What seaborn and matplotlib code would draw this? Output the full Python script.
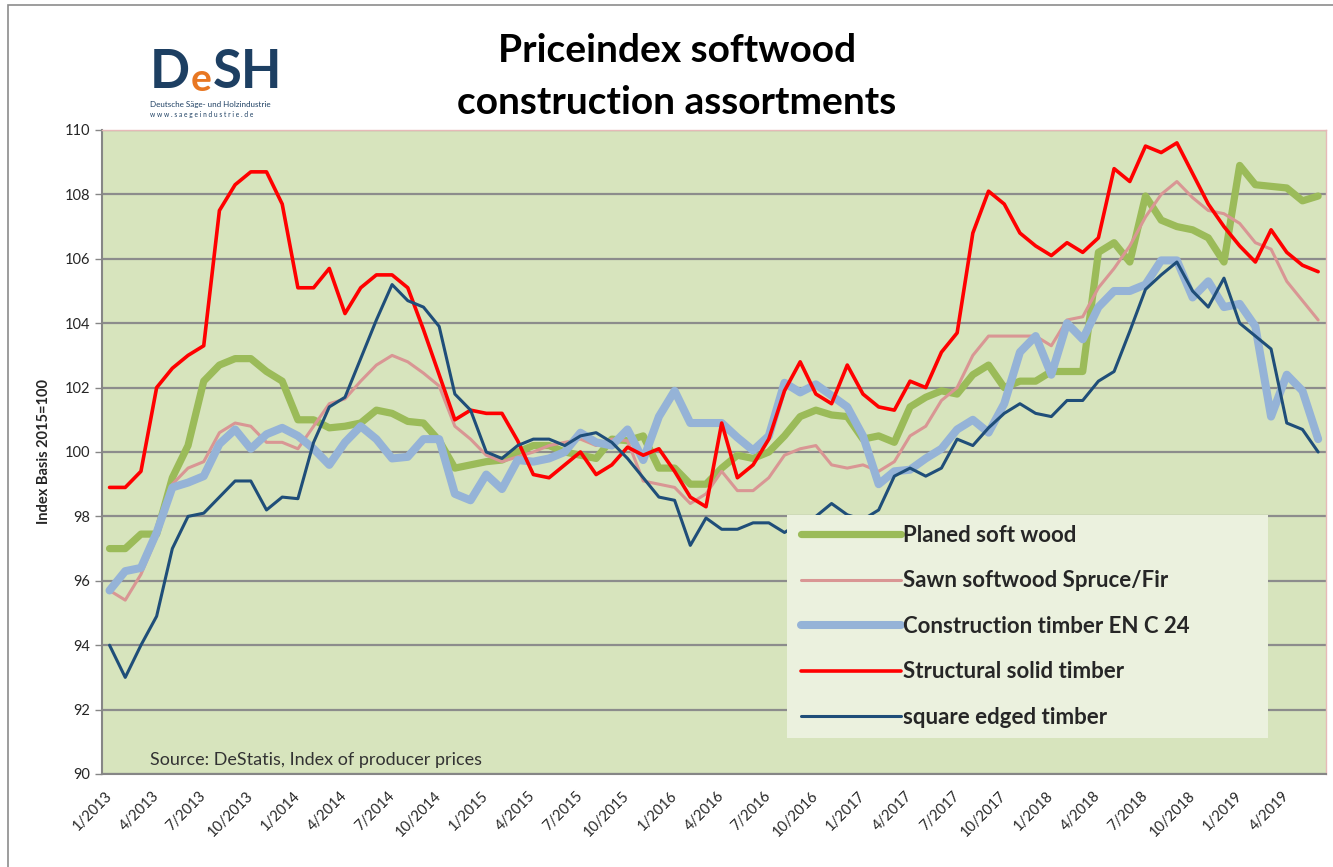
import matplotlib
matplotlib.use("Agg")
import matplotlib.pyplot as plt
from matplotlib.patches import Rectangle
import seaborn as sns
import numpy as np

# monthly values 1/2013 .. 6/2019 (78 months)
months = np.arange(78)
tick_labels = ["1/2013", "4/2013", "7/2013", "10/2013", "1/2014", "4/2014", "7/2014",
               "10/2014", "1/2015", "4/2015", "7/2015", "10/2015", "1/2016", "4/2016",
               "7/2016", "10/2016", "1/2017", "4/2017", "7/2017", "10/2017", "1/2018",
               "4/2018", "7/2018", "10/2018", "1/2019", "4/2019"]

planed = [97.0, 97.0, 97.45, 97.45, 99.2, 100.2, 102.2, 102.7, 102.9, 102.9, 102.5, 102.2,
          101.0, 101.0, 100.75, 100.8, 100.9, 101.3, 101.2, 100.95, 100.9, 100.35, 99.5, 99.6,
          99.7, 99.75, 100.0, 100.2, 100.2, 100.0, 99.9, 99.8, 100.4, 100.35, 100.5, 99.5,
          99.5, 99.0, 99.0, 99.5, 99.9, 99.8, 100.0, 100.5, 101.1, 101.3, 101.15, 101.1,
          100.4, 100.5, 100.3, 101.4, 101.7, 101.9, 101.8, 102.4, 102.7, 102.0, 102.2, 102.2,
          102.5, 102.5, 102.5, 106.2, 106.5, 105.9, 107.95, 107.2, 107.0, 106.9, 106.65, 105.9,
          108.9, 108.3, 108.25, 108.2, 107.8, 107.95]
sawn = [95.7, 95.4, 96.2, 97.35, 99.0, 99.5, 99.7, 100.6, 100.9, 100.8, 100.3, 100.3,
        100.1, 100.8, 101.5, 101.65, 102.2, 102.7, 103.0, 102.8, 102.45, 102.05, 100.8, 100.4,
        99.9, 99.7, 99.85, 100.0, 100.2, 100.3, 100.4, 100.2, 100.4, 100.35, 99.1, 99.0,
        98.9, 98.4, 98.7, 99.4, 98.8, 98.8, 99.2, 99.9, 100.1, 100.2, 99.6, 99.5,
        99.6, 99.4, 99.7, 100.5, 100.8, 101.6, 102.0, 103.0, 103.6, 103.6, 103.6, 103.6,
        103.3, 104.1, 104.2, 105.1, 105.7, 106.4, 107.3, 108.0, 108.4, 107.9, 107.5, 107.4,
        107.1, 106.5, 106.3, 105.3, 104.7, 104.1]
construction = [95.7, 96.3, 96.4, 97.5, 98.9, 99.05, 99.25, 100.25, 100.7, 100.1, 100.55, 100.75,
                100.5, 100.1, 99.6, 100.3, 100.8, 100.4, 99.8, 99.85, 100.4, 100.4, 98.7, 98.5,
                99.3, 98.85, 99.75, 99.7, 99.8, 100.0, 100.6, 100.3, 100.2, 100.7, 99.75, 101.1,
                101.9, 100.9, 100.9, 100.9, 100.45, 100.05, 100.5, 102.15, 101.85, 102.1, 101.75, 101.4,
                100.5, 99.0, 99.4, 99.45, 99.8, 100.1, 100.7, 101.0, 100.6, 101.5, 103.1, 103.6,
                102.4, 104.0, 103.5, 104.5, 105.0, 105.0, 105.2, 105.95, 105.95, 104.8, 105.3, 104.5,
                104.6, 103.9, 101.1, 102.4, 101.9, 100.4]
structural = [98.9, 98.9, 99.4, 102.0, 102.6, 103.0, 103.3, 107.5, 108.3, 108.7, 108.7, 107.7,
              105.1, 105.1, 105.7, 104.3, 105.1, 105.5, 105.5, 105.1, 103.8, 102.4, 101.0, 101.3,
              101.2, 101.2, 100.35, 99.3, 99.2, 99.6, 100.0, 99.3, 99.6, 100.15, 99.9, 100.1,
              99.4, 98.6, 98.3, 100.9, 99.2, 99.6, 100.4, 101.9, 102.8, 101.8, 101.5, 102.7,
              101.8, 101.4, 101.3, 102.2, 102.0, 103.1, 103.7, 106.8, 108.1, 107.7, 106.8, 106.4,
              106.1, 106.5, 106.2, 106.65, 108.8, 108.4, 109.5, 109.3, 109.6, 108.65, 107.7, 107.0,
              106.4, 105.9, 106.9, 106.2, 105.8, 105.6]
square = [94.0, 93.0, 94.0, 94.9, 97.0, 98.0, 98.1, 98.6, 99.1, 99.1, 98.2, 98.6,
          98.55, 100.3, 101.4, 101.7, 102.9, 104.1, 105.2, 104.7, 104.5, 103.9, 101.8, 101.3,
          100.0, 99.8, 100.2, 100.4, 100.4, 100.2, 100.5, 100.6, 100.3, 99.8, 99.2, 98.6,
          98.5, 97.1, 97.95, 97.6, 97.6, 97.8, 97.8, 97.5, 97.8, 98.0, 98.4, 98.05,
          97.9, 98.2, 99.25, 99.5, 99.25, 99.5, 100.4, 100.2, 100.75, 101.2, 101.5, 101.2,
          101.1, 101.6, 101.6, 102.2, 102.5, 103.75, 105.05, 105.5, 105.9, 105.0, 104.5, 105.4,
          104.0, 103.6, 103.2, 100.9, 100.7, 100.0]

names = ["Planed soft wood", "Sawn softwood Spruce/Fir", "Construction timber EN C 24",
         "Structural solid timber", "square edged timber"]
series = [planed, sawn, construction, structural, square]
colors = ["#9BBB59", "#D99694", "#95B3D7", "#FF0000", "#1F4E79"]
widths = [5.2, 2.2, 5.8, 2.6, 2.2]

sns.set_theme(style="white")
plt.rcParams["font.family"] = ["Lato", "DejaVu Sans"]

W, H = 1333, 867
fig = plt.figure(figsize=(W / 100, H / 100), dpi=100)
ax = fig.add_axes([101.7 / W, 1 - 774 / H, 1224.3 / W, 644 / H])
ax.set_facecolor("#D7E4BD")

for name, vals, col, lw in zip(names, series, colors, widths):
    sns.lineplot(x=months, y=vals, color=col, linewidth=lw, ax=ax, label=name,
                 solid_joinstyle="round", solid_capstyle="round")

ax.set_xlim(-0.5, 77.5)
ax.set_ylim(90, 110)
ax.set_yticks(np.arange(90, 111, 2))
ax.yaxis.grid(True, color="#8C8C8C", linewidth=1.6)
ax.set_axisbelow(True)

ax.set_xticks(months[::3])
ax.set_xticklabels(tick_labels, rotation=45, ha="right", va="center",
                   rotation_mode="anchor", fontsize=10.5, color="#262626")
ax.set_xticks(np.arange(-0.5, 78, 1), minor=True)
ax.tick_params(axis="x", which="major", length=0, pad=14)
ax.tick_params(axis="x", which="minor", length=6, width=1, color="#868686", direction="out")
ax.tick_params(axis="y", length=5, width=1, color="#868686", direction="out",
               labelsize=10.5, labelcolor="#262626", left=True)

for side in ["left", "bottom"]:
    ax.spines[side].set_color("#868686")
    ax.spines[side].set_linewidth(1.5)
for side in ["top", "right"]:
    ax.spines[side].set_color("#E6B9B8")
    ax.spines[side].set_linewidth(1)

ax.set_xlabel("")
ax.set_ylabel("Index Basis 2015=100", fontsize=10.5, fontweight="bold", labelpad=10)

fig.text(150 / W, 1 - 760 / H, "Source: DeStatis, Index of producer prices",
         fontsize=13, color="#333333", va="center")

# legend box
box = Rectangle((787 / W, 1 - 738 / H), 481 / W, 223 / H, transform=fig.transFigure,
                facecolor="#EBF1DE", edgecolor="none", zorder=5)
ax.add_patch(box)
box.set_clip_on(False)

handles, labels = ax.get_legend_handles_labels()
leg = ax.legend(handles, labels, loc="upper left", bbox_to_anchor=(801 / W, 1 - 525 / H),
                bbox_transform=fig.transFigure, frameon=False, handlelength=4.5,
                handletextpad=0.08, labelspacing=1.1, borderpad=0, borderaxespad=0,
                prop={"weight": "bold", "size": 16})
leg.set_zorder(6)

# title
fig.text(677 / W, 1 - 50 / H, "Priceindex softwood", ha="center", va="center",
         fontsize=28, fontweight="bold", color="black")
fig.text(677 / W, 1 - 102 / H, "construction assortments", ha="center", va="center",
         fontsize=28, fontweight="bold", color="black")

# logo: letters placed side by side using their measured widths
renderer = fig.canvas.get_renderer()
x_px = 150
for part, size, col in [("D", 38, "#1D3F62"), ("e", 28, "#E87722"), ("SH", 38, "#1D3F62")]:
    t = fig.text(x_px / W, 1 - 97 / H, part, fontsize=size, fontweight="bold", color=col,
                 va="bottom", ha="left")
    x_px += t.get_window_extent(renderer).width + 1
fig.text(150 / W, 1 - 105 / H, "Deutsche Säge- und Holzindustrie", fontsize=5.8,
         color="#1D3F62", va="center")
fig.text(150 / W, 1 - 115 / H, "w w w . s a e g e i n d u s t r i e . d e", fontsize=4.8,
         color="#1D3F62", va="center")

# outer chart frame
fig.patches.append(Rectangle((8 / W, -0.01), 1.1, 1 - 5 / H + 0.01, transform=fig.transFigure,
                             facecolor="none", edgecolor="#8C8C8C", linewidth=1.2))

fig.savefig("out.png", dpi=100)
